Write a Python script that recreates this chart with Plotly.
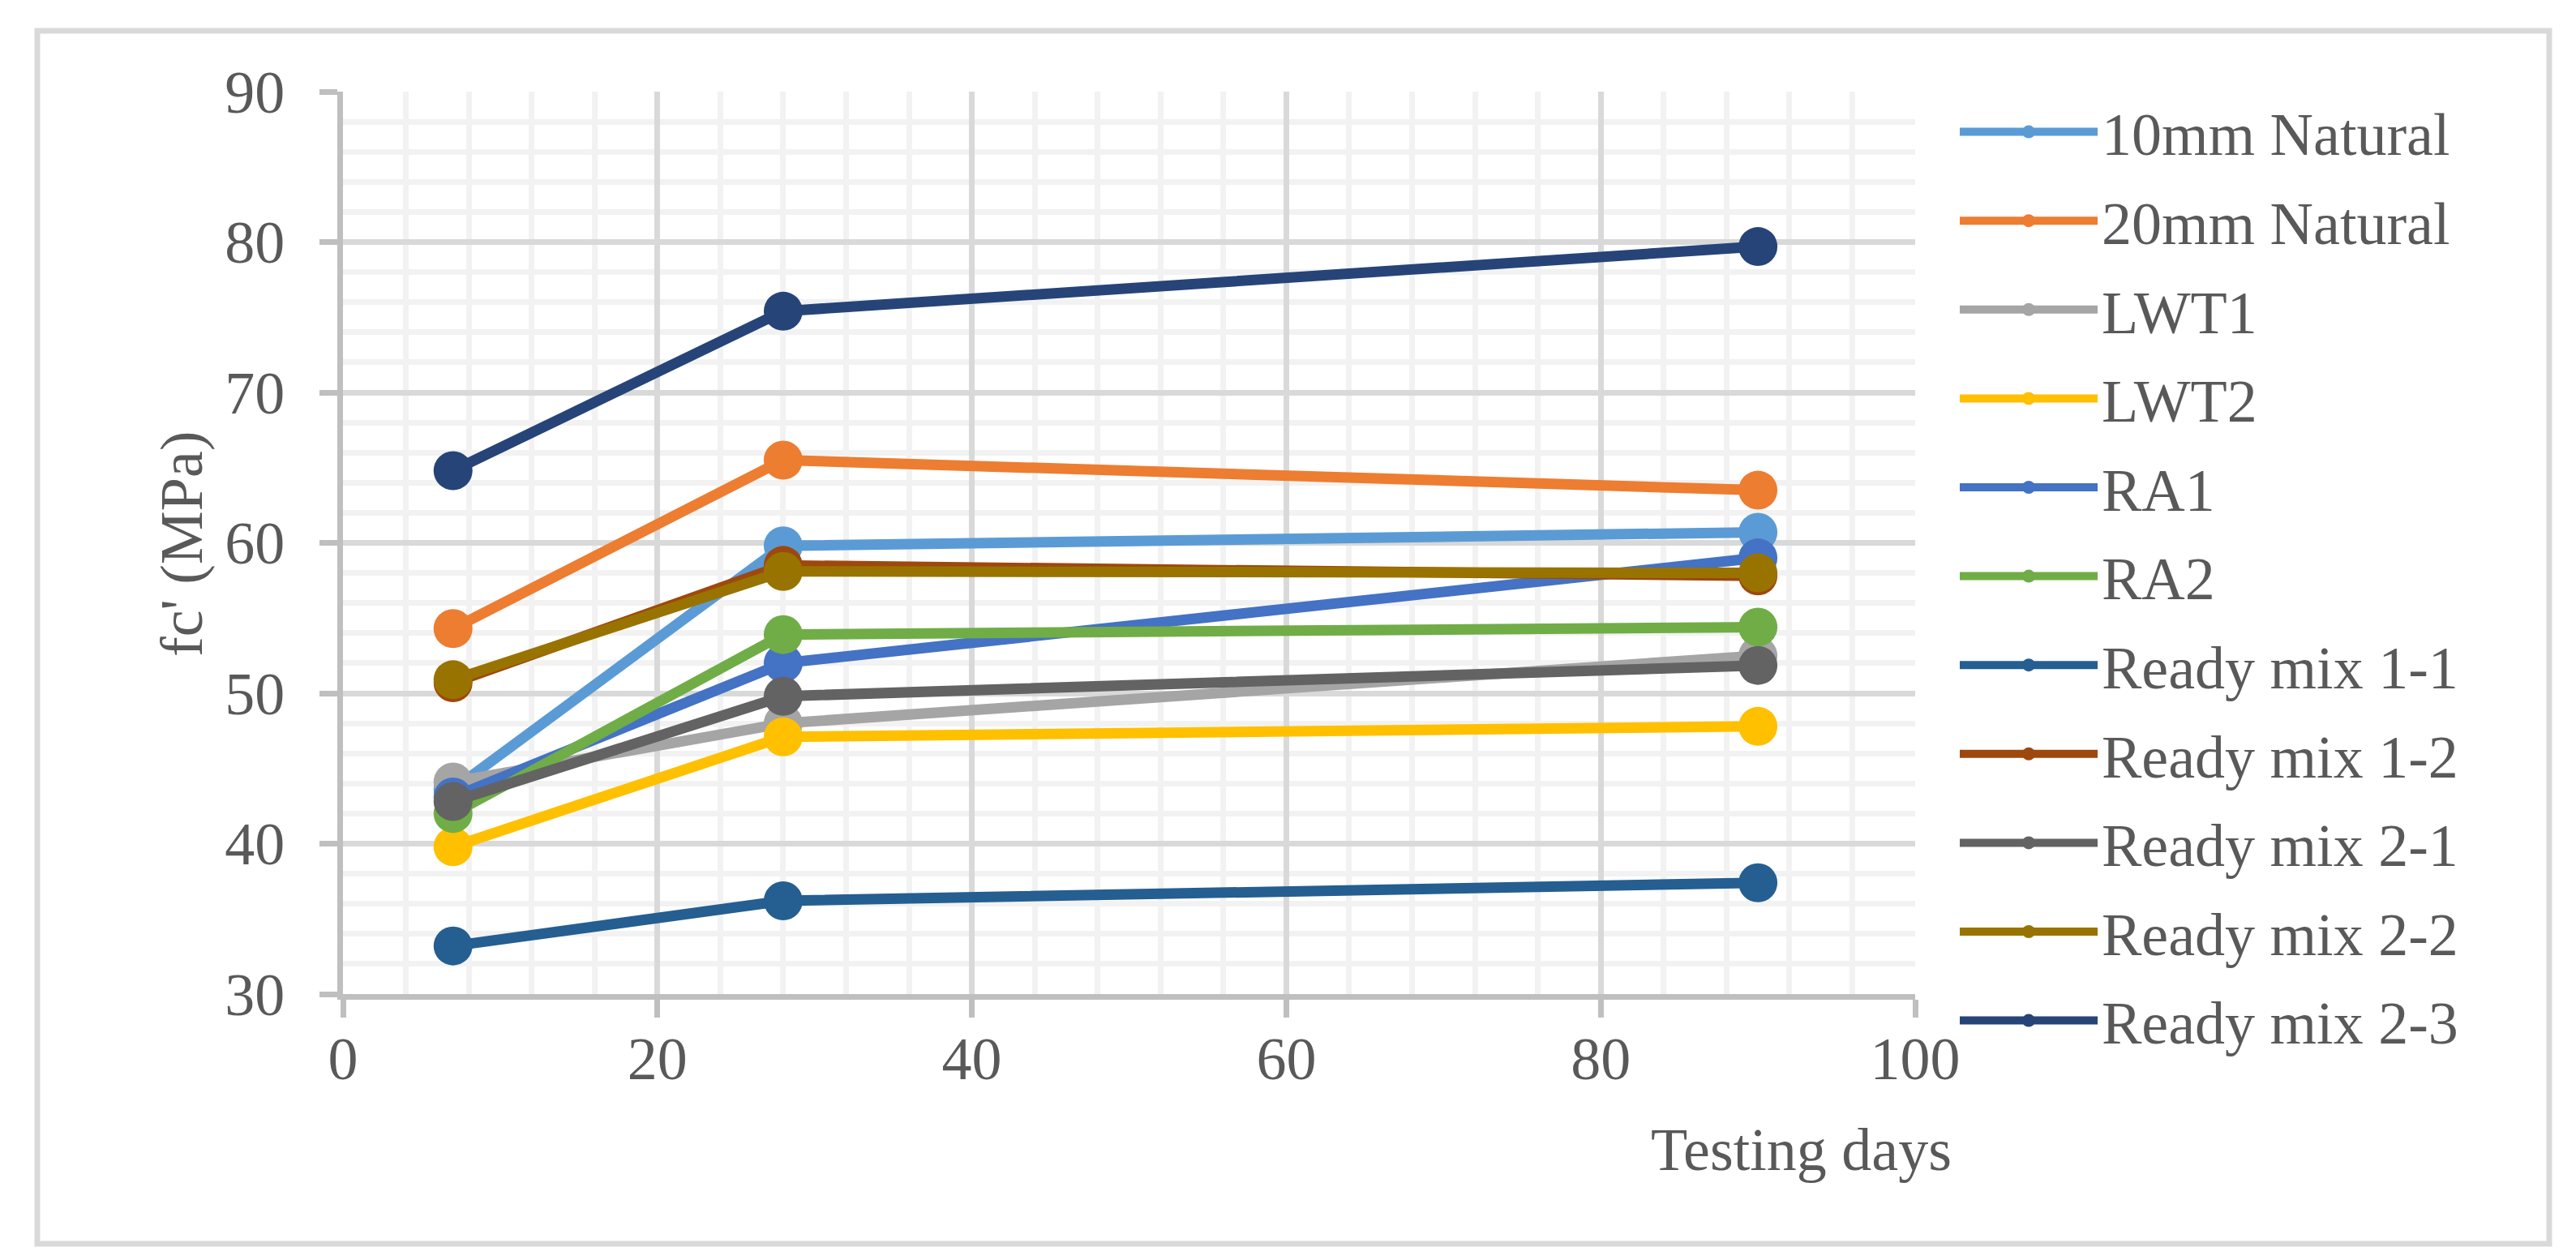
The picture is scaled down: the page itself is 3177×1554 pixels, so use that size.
import plotly.graph_objects as go

# ---- data ----
days = [7, 28, 90]
series_names = [
    "10mm Natural", "20mm Natural", "LWT1", "LWT2", "RA1", "RA2",
    "Ready mix 1-1", "Ready mix 1-2", "Ready mix 2-1", "Ready mix 2-2", "Ready mix 2-3",
]
natural_10mm = [43.6, 59.8, 60.7]
natural_20mm = [54.3, 65.5, 63.5]
lwt1 = [44.1, 48.0, 52.5]
lwt2 = [39.8, 47.1, 47.8]
ra1 = [43.1, 52.0, 59.0]
ra2 = [42.0, 53.9, 54.4]
rm_1_1 = [33.2, 36.2, 37.4]
rm_1_2 = [50.7, 58.5, 57.8]
rm_2_1 = [42.8, 49.8, 51.85]
rm_2_2 = [50.9, 58.1, 58.0]
rm_2_3 = [64.8, 75.4, 79.7]
x_ticks = [0, 20, 40, 60, 80, 100]
y_ticks = [30, 40, 50, 60, 70, 80, 90]

values = [natural_10mm, natural_20mm, lwt1, lwt2, ra1, ra2,
          rm_1_1, rm_1_2, rm_2_1, rm_2_2, rm_2_3]
colors = ["#5B9BD5", "#ED7D31", "#A5A5A5", "#FFC000", "#4472C4", "#70AD47",
          "#255E91", "#9E480E", "#636363", "#997300", "#264478"]

FONT = "Liberation Serif, Times New Roman, serif"
TXT = "#595959"

W, H = 3177, 1554
L, R, T, B = 415, 3177 - 2354, 105, 1554 - 1218
pw, ph = W - L - R, H - T - B

def px_x(p):
    return (p - L) / pw

def px_y(p):
    return (H - B - p) / ph

fig = go.Figure()
for i, (name, vals, col) in enumerate(zip(series_names, values, colors)):
    fig.add_trace(go.Scatter(
        x=days, y=vals, name=name, mode="lines+markers",
        line=dict(color=col, width=13),
        marker=dict(color=col, size=48),
        legendgroup=f"g{i}",
    ))

axis_common = dict(
    showgrid=True, gridcolor="#d9d9d9", gridwidth=7,
    showline=True, linecolor="#bfbfbf", linewidth=7,
    ticks="outside", ticklen=22, tickcolor="#bfbfbf", tickwidth=7,
    zeroline=False,
    tickfont=dict(family=FONT, size=74, color=TXT),
)

fig.update_xaxes(
    range=[0, 100], tickvals=x_ticks, ticklabelstandoff=-13,
    minor=dict(dtick=4, tick0=0, showgrid=True, gridcolor="#f2f2f2", gridwidth=7, ticks=""),
    **axis_common,
)
fig.update_yaxes(
    range=[30, 90], tickvals=y_ticks, ticklabelstandoff=28,
    minor=dict(dtick=2, tick0=30, showgrid=True, gridcolor="#f2f2f2", gridwidth=7, ticks=""),
    **axis_common,
)

fig.update_layout(
    width=W, height=H,
    margin=dict(l=L, r=R, t=T, b=B, autoexpand=False),
    paper_bgcolor="white", plot_bgcolor="white",
    font=dict(family=FONT, size=74, color=TXT),
    showlegend=True,
    legend=dict(
        x=px_x(2404), y=px_y(100), xanchor="left", yanchor="top",
        font=dict(family=FONT, size=74, color=TXT),
        itemwidth=170, tracegroupgap=10.4, maxheight=1420,
        bgcolor="rgba(0,0,0,0)",
    ),
    annotations=[
        dict(text="Testing days", x=px_x(2213), y=px_y(1410), xref="paper", yref="paper",
             xanchor="center", yanchor="middle", showarrow=False,
             font=dict(family=FONT, size=74, color=TXT)),
        dict(text="fc' (MPa)", x=px_x(216), y=px_y(663), xref="paper", yref="paper",
             xanchor="center", yanchor="middle", showarrow=False, textangle=-90,
             font=dict(family=FONT, size=74, color=TXT)),
    ],
    shapes=[
        dict(type="rect", xref="paper", yref="paper",
             x0=px_x(38), x1=px_x(3136), y0=px_y(1526), y1=px_y(30),
             line=dict(color="#d9d9d9", width=7), fillcolor="rgba(0,0,0,0)", layer="below"),
    ],
)

fig.write_html("out.html")
